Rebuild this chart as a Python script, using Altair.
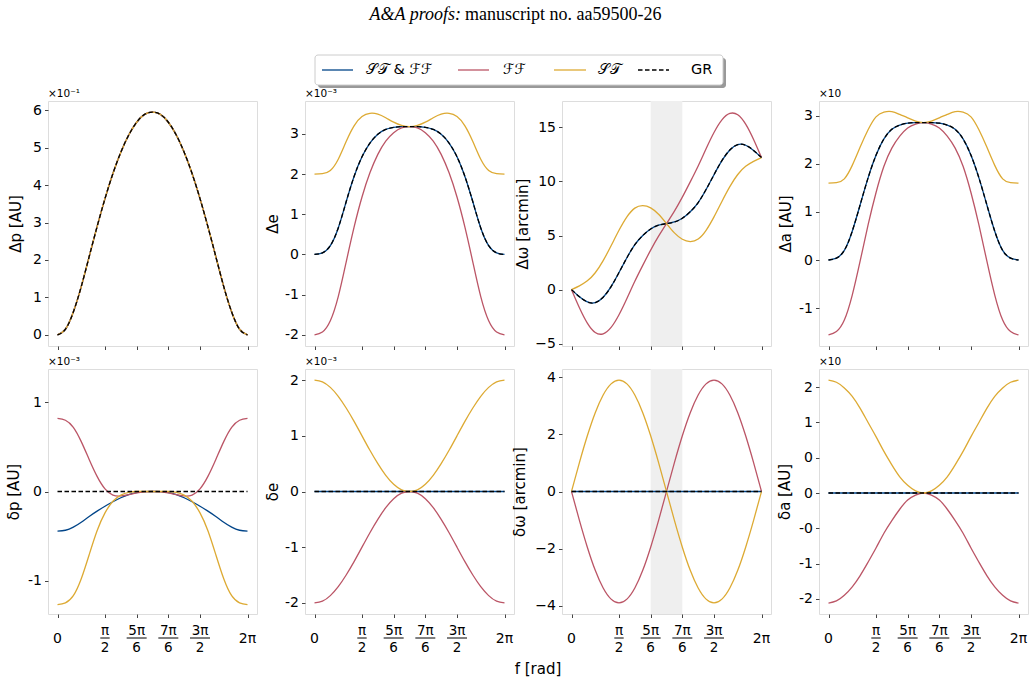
import altair as alt
import pandas as pd

# true anomaly samples, degrees
f_deg = [0, 15, 30, 45, 60, 75, 90, 105, 120, 135, 150, 165, 180,
         195, 210, 225, 240, 255, 270, 285, 300, 315, 330, 345, 360]

# ---- top row: total shifts -------------------------------------------------
# Delta p (x1e-1 AU): every model lies on the same curve
dp_all = [0, 0.15, 0.61, 1.29, 2.09, 2.89, 3.64, 4.31, 4.88, 5.34, 5.68, 5.89, 5.95,
          5.89, 5.68, 5.34, 4.88, 4.31, 3.64, 2.89, 2.09, 1.29, 0.61, 0.15, 0]

# Delta e (x1e-3)
de_gr = [0, 0.04, 0.22, 0.66, 1.31, 1.94, 2.43, 2.77, 2.99, 3.11, 3.16, 3.18, 3.18,
         3.18, 3.16, 3.11, 2.99, 2.77, 2.43, 1.94, 1.31, 0.66, 0.22, 0.04, 0]
de_st = [2.0, 2.01, 2.09, 2.37, 2.81, 3.2, 3.43, 3.51, 3.49, 3.4, 3.29, 3.21, 3.18,
         3.21, 3.29, 3.4, 3.49, 3.51, 3.43, 3.2, 2.81, 2.37, 2.09, 2.01, 2.0]
de_ff = [-2.0, -1.93, -1.65, -1.05, -0.19, 0.68, 1.43, 2.03, 2.49, 2.82, 3.03, 3.15, 3.18,
         3.15, 3.03, 2.82, 2.49, 2.03, 1.43, 0.68, -0.19, -1.05, -1.65, -1.93, -2.0]

# Delta omega (arcmin)
dw_gr = [0, -0.66, -1.14, -1.2, -0.7, 0.28, 1.58, 2.95, 4.15, 5.0, 5.6, 5.95, 6.1,
         6.25, 6.6, 7.2, 8.05, 9.25, 10.62, 11.92, 12.9, 13.4, 13.34, 12.86, 12.2]
dw_st = [0, 0.35, 0.81, 1.56, 2.68, 4.05, 5.48, 6.72, 7.53, 7.76, 7.55, 6.96, 6.1,
         5.24, 4.65, 4.44, 4.67, 5.48, 6.72, 8.15, 9.52, 10.64, 11.39, 11.85, 12.2]
dw_ff = [0, -1.67, -3.09, -3.96, -4.08, -3.49, -2.32, -0.82, 0.77, 2.24, 3.65, 4.94, 6.1,
         7.26, 8.55, 9.96, 11.43, 13.02, 14.52, 15.69, 16.28, 16.16, 15.29, 13.87, 12.2]

# Delta a (x10 AU)
da_gr = [0, 0.04, 0.2, 0.6, 1.15, 1.71, 2.18, 2.52, 2.72, 2.81, 2.85, 2.86, 2.86,
         2.86, 2.85, 2.81, 2.72, 2.52, 2.18, 1.71, 1.15, 0.6, 0.2, 0.04, 0]
da_st = [1.6, 1.61, 1.69, 1.97, 2.35, 2.71, 2.98, 3.08, 3.09, 3.03, 2.96, 2.89, 2.86,
         2.89, 2.96, 3.03, 3.09, 3.08, 2.98, 2.71, 2.35, 1.97, 1.69, 1.61, 1.6]
da_ff = [-1.56, -1.49, -1.25, -0.73, -0.02, 0.73, 1.4, 1.95, 2.33, 2.58, 2.75, 2.83, 2.86,
         2.83, 2.75, 2.58, 2.33, 1.95, 1.4, 0.73, -0.02, -0.73, -1.25, -1.49, -1.56]

# ---- bottom row: differences from GR ---------------------------------------
zero = [0] * 25

# delta p (x1e-3 AU)
sp_stff = [-0.445, -0.435, -0.4, -0.345, -0.28, -0.22, -0.165, -0.115, -0.07, -0.035, -0.012, -0.002, 0,
           -0.002, -0.012, -0.035, -0.07, -0.115, -0.165, -0.22, -0.28, -0.345, -0.4, -0.435, -0.445]
sp_ff = [0.82, 0.8, 0.72, 0.56, 0.36, 0.17, 0.03, -0.04, -0.05, -0.035, -0.015, -0.003, 0,
         -0.003, -0.015, -0.035, -0.05, -0.04, 0.03, 0.17, 0.36, 0.56, 0.72, 0.8, 0.82]
sp_st = [-1.27, -1.25, -1.17, -0.98, -0.71, -0.44, -0.24, -0.11, -0.04, -0.01, 0, 0, 0,
         0, 0, -0.01, -0.04, -0.11, -0.24, -0.44, -0.71, -0.98, -1.17, -1.25, -1.27]

# delta e (x1e-3)
se_st = [2.0, 1.97, 1.87, 1.71, 1.5, 1.26, 1.0, 0.74, 0.5, 0.29, 0.13, 0.03, 0,
         0.03, 0.13, 0.29, 0.5, 0.74, 1.0, 1.26, 1.5, 1.71, 1.87, 1.97, 2.0]
se_ff = [-2.0, -1.97, -1.87, -1.71, -1.5, -1.26, -1.0, -0.74, -0.5, -0.29, -0.13, -0.03, 0,
         -0.03, -0.13, -0.29, -0.5, -0.74, -1.0, -1.26, -1.5, -1.71, -1.87, -1.97, -2.0]

# delta omega (arcmin)
sw_st = [0, 1.01, 1.95, 2.76, 3.38, 3.77, 3.9, 3.77, 3.38, 2.76, 1.95, 1.01, 0,
         -1.01, -1.95, -2.76, -3.38, -3.77, -3.9, -3.77, -3.38, -2.76, -1.95, -1.01, 0]
sw_ff = [0, -1.01, -1.95, -2.76, -3.38, -3.77, -3.9, -3.77, -3.38, -2.76, -1.95, -1.01, 0,
         1.01, 1.95, 2.76, 3.38, 3.77, 3.9, 3.77, 3.38, 2.76, 1.95, 1.01, 0]

# delta a (x10 AU)
sa_st = [1.6, 1.57, 1.49, 1.37, 1.2, 1.0, 0.8, 0.59, 0.4, 0.23, 0.11, 0.03, 0,
         0.03, 0.11, 0.23, 0.4, 0.59, 0.8, 1.0, 1.2, 1.37, 1.49, 1.57, 1.6]
sa_ff = [-1.56, -1.53, -1.45, -1.33, -1.17, -0.98, -0.78, -0.57, -0.39, -0.23, -0.1, -0.03, 0,
         -0.03, -0.1, -0.23, -0.39, -0.57, -0.78, -0.98, -1.17, -1.33, -1.45, -1.53, -1.56]

# ---- axes text -------------------------------------------------------------
x_tick_deg = [0, 90, 150, 210, 270, 360]
x_single_pos = [0, 360]
x_single_text = ["0", "2π"]
x_frac_pos = [90, 150, 210, 270]
x_frac_num = ["π", "5π", "7π", "3π"]
x_frac_den = ["2", "6", "6", "2"]
shade_band = [150, 210]

sa_tick_values = [-1.5, -1.0, -0.5, 0.0, 0.5, 1.0, 1.5]
sa_tick_text = ["-2", "-1", "-0", "0", "0", "1", "2"]

legend_names = ["𝒮𝒯 & ℱℱ", "ℱℱ", "𝒮𝒯", "GR"]

# ---- styling ---------------------------------------------------------------
BLUE, RED, GOLD, BLACK = "#004488", "#BB5566", "#DDAA33", "#000000"
EDGE = "#444444"
SANS = "DejaVu Sans"
SERIF = "Liberation Serif"
W, H = 209, 245
X_DOMAIN = [-18, 378]
Y_EXT = 22
DASH = [4.5, 2.5]
LW = 1.3

HYPHEN_EXPR = "datum.value < 0 ? '-' + format(-datum.value, 'd') : format(datum.value, 'd')"
SA_EXPR = " : ".join(f"datum.value == {v} ? '{t}'" for v, t in zip(sa_tick_values, sa_tick_text)) + " : ''"

xs = alt.Scale(domain=X_DOMAIN, nice=False, zero=False)
xa = alt.Axis(values=x_tick_deg, labels=False, title=None, grid=False, domain=False,
              ticks=True, tickSize=3.5, tickWidth=1, tickColor=EDGE)
X = alt.X("f:Q", scale=xs, axis=xa)


def note(text, x, y, size=14, align="left", baseline="middle", font=SANS, **kw):
    return alt.Chart(pd.DataFrame({"t": [text]})).mark_text(
        fontSize=size, align=align, baseline=baseline, font=font, color="black", **kw
    ).encode(x=alt.value(x), y=alt.value(y), text="t:N")


def panel(series, ydom, yticks, ytitle, title_pad, label_expr=None, offset=None,
          shade=False, xlabels=False, extra=()):
    ys = alt.Scale(domain=ydom, nice=False, zero=False)
    ya_kw = dict(values=yticks, title=ytitle, grid=False, domain=False,
                 tickSize=3.5, tickWidth=1, tickColor=EDGE, labelPadding=3,
                 labelFontSize=14, labelFont=SANS, labelColor="black",
                 labelOverlap=False, titleFont=SANS, titleFontSize=15,
                 titleFontWeight="normal", titleColor="black", titlePadding=title_pad,
                 minExtent=Y_EXT, maxExtent=Y_EXT)
    if label_expr:
        ya_kw["labelExpr"] = label_expr
    ya = alt.Axis(**ya_kw)

    layers = []
    if shade:
        band = pd.DataFrame({"lo": [shade_band[0]], "hi": [shade_band[1]]})
        layers.append(alt.Chart(band).mark_rect(color="#efefef").encode(
            x=alt.X("lo:Q", scale=xs, axis=xa), x2="hi:Q"))
    for vals, color, dash in series:
        df = pd.DataFrame({"f": f_deg, "v": vals})
        mk = dict(color=color, strokeWidth=LW, interpolate="natural")
        if dash:
            mk["strokeDash"] = dash
        layers.append(alt.Chart(df).mark_line(**mk).encode(
            x=X, y=alt.Y("v:Q", scale=ys, axis=ya)))
    if offset:
        layers.append(note(offset, 0, -4, size=10.5, baseline="alphabetic"))
    if xlabels:
        singles = pd.DataFrame({"f": x_single_pos, "t": x_single_text})
        fracs = pd.DataFrame({"f": x_frac_pos, "n": x_frac_num, "d": x_frac_den})
        layers.append(alt.Chart(singles).mark_text(fontSize=14, font=SANS, baseline="middle").encode(
            x=X, y=alt.value(H + 25), text="t:N"))
        layers.append(alt.Chart(fracs).mark_text(fontSize=13.5, font=SANS, baseline="middle").encode(
            x=X, y=alt.value(H + 17), text="n:N"))
        layers.append(alt.Chart(fracs).mark_text(fontSize=13.5, font=SANS, baseline="middle").encode(
            x=X, y=alt.value(H + 34), text="d:N"))
        layers.append(alt.Chart(fracs).transform_filter("length(datum.n) == 1").mark_rule(
            color="black", strokeWidth=1, xOffset=-4.7, x2Offset=4.7).encode(
            x=X, x2="f:Q", y=alt.value(H + 24)))
        layers.append(alt.Chart(fracs).transform_filter("length(datum.n) > 1").mark_rule(
            color="black", strokeWidth=1, xOffset=-10, x2Offset=10).encode(
            x=X, x2="f:Q", y=alt.value(H + 24)))
    layers.extend(extra)
    return alt.layer(*layers).properties(width=W, height=H)


def std(stff, ff, st, gr):
    return [(stff, BLUE, None), (ff, RED, None), (st, GOLD, None), (gr, BLACK, DASH)]


# page furniture placed relative to the first panel (its plot area sits at 47, 100)
OX, OY = 47, 100
leg_y = 69 - OY
furniture = [
    alt.Chart(pd.DataFrame({"a": [0]})).mark_rect(opacity=0).encode(
        x=alt.value(-OX), x2=alt.value(-OX + 1), y=alt.value(-OY), y2=alt.value(-OY + 1)),
    note("A&A proofs:", 460 - OX, 14 - OY, size=18, align="right", font=SERIF, fontStyle="italic"),
    note("manuscript no. aa59500-26", 464 - OX, 14 - OY, size=18, align="left", font=SERIF),
    # legend frame with drop shadow
    alt.Chart(pd.DataFrame({"a": [0]})).mark_rect(color="black", opacity=0.4, cornerRadius=3).encode(
        x=alt.value(314 - OX + 3), x2=alt.value(722 - OX + 3), y=alt.value(54 - OY + 3), y2=alt.value(84 - OY + 3)),
    alt.Chart(pd.DataFrame({"a": [0]})).mark_rect(fill="white", stroke="#cccccc", strokeWidth=1, cornerRadius=3).encode(
        x=alt.value(314 - OX), x2=alt.value(722 - OX), y=alt.value(54 - OY), y2=alt.value(84 - OY)),
]
leg_items = [(321, 352, 365, BLUE, None), (457, 488, 502, RED, None),
             (553, 585, 597, GOLD, None), (637, 668, 690, BLACK, DASH)]
for (x0, x1, xt, color, dash), name in zip(leg_items, legend_names):
    mk = dict(color=color, strokeWidth=LW)
    if dash:
        mk["strokeDash"] = DASH
    furniture.append(alt.Chart(pd.DataFrame({"a": [0]})).mark_rule(**mk).encode(
        x=alt.value(x0 - OX), x2=alt.value(x1 - OX), y=alt.value(leg_y)))
    furniture.append(note(name, xt - OX, leg_y, size=14.5))

p1 = panel(std(dp_all, dp_all, dp_all, dp_all), [-0.2975, 6.2475], [0, 1, 2, 3, 4, 5, 6],
           "Δp [AU]", 2.5, HYPHEN_EXPR, "×10⁻¹", extra=furniture)
p2 = panel(std(de_gr, de_ff, de_st, de_gr), [-2.277, 3.817], [-2, -1, 0, 1, 2, 3],
           "Δe", 2.5, HYPHEN_EXPR, "×10⁻³")
p3 = panel(std(dw_gr, dw_ff, dw_st, dw_gr), [-5.21, 17.43], [-5, 0, 5, 10, 15],
           "Δω [arcmin]", 9.5, shade=True)
p4 = panel(std(da_gr, da_ff, da_st, da_gr), [-1.79, 3.31], [-1, 0, 1, 2, 3],
           "Δa [AU]", 4, HYPHEN_EXPR, "×10")

p5 = panel(std(sp_stff, sp_ff, sp_st, zero), [-1.375, 1.375], [-1, 0, 1],
           "δp [AU]", 4.5, HYPHEN_EXPR, "×10⁻³", xlabels=True)
p6 = panel(std(zero, se_ff, se_st, zero), [-2.2, 2.2], [-2, -1, 0, 1, 2],
           "δe", 2.5, HYPHEN_EXPR, "×10⁻³", xlabels=True,
           extra=[note("f [rad]", 537 - 304, 668 - 368, size=15, align="center")])
p7 = panel(std(zero, sw_ff, sw_st, zero), [-4.29, 4.29], [-4, -2, 0, 2, 4],
           "δω [arcmin]", 12.5, shade=True, xlabels=True)
p8 = panel(std(zero, sa_ff, sa_st, zero), [-1.715, 1.758], sa_tick_values,
           "δa [AU]", 5, SA_EXPR, "×10", xlabels=True)

chart = alt.concat(p1, p2, p3, p4, p5, p6, p7, p8, columns=4,
                   spacing={"row": 23, "column": 48}, bounds="flush").properties(
    padding=0, background="white"
).configure_view(stroke=EDGE, strokeWidth=1).configure(font=SANS)

chart.save("out.html", embed_options={"renderer": "svg", "actions": False})
